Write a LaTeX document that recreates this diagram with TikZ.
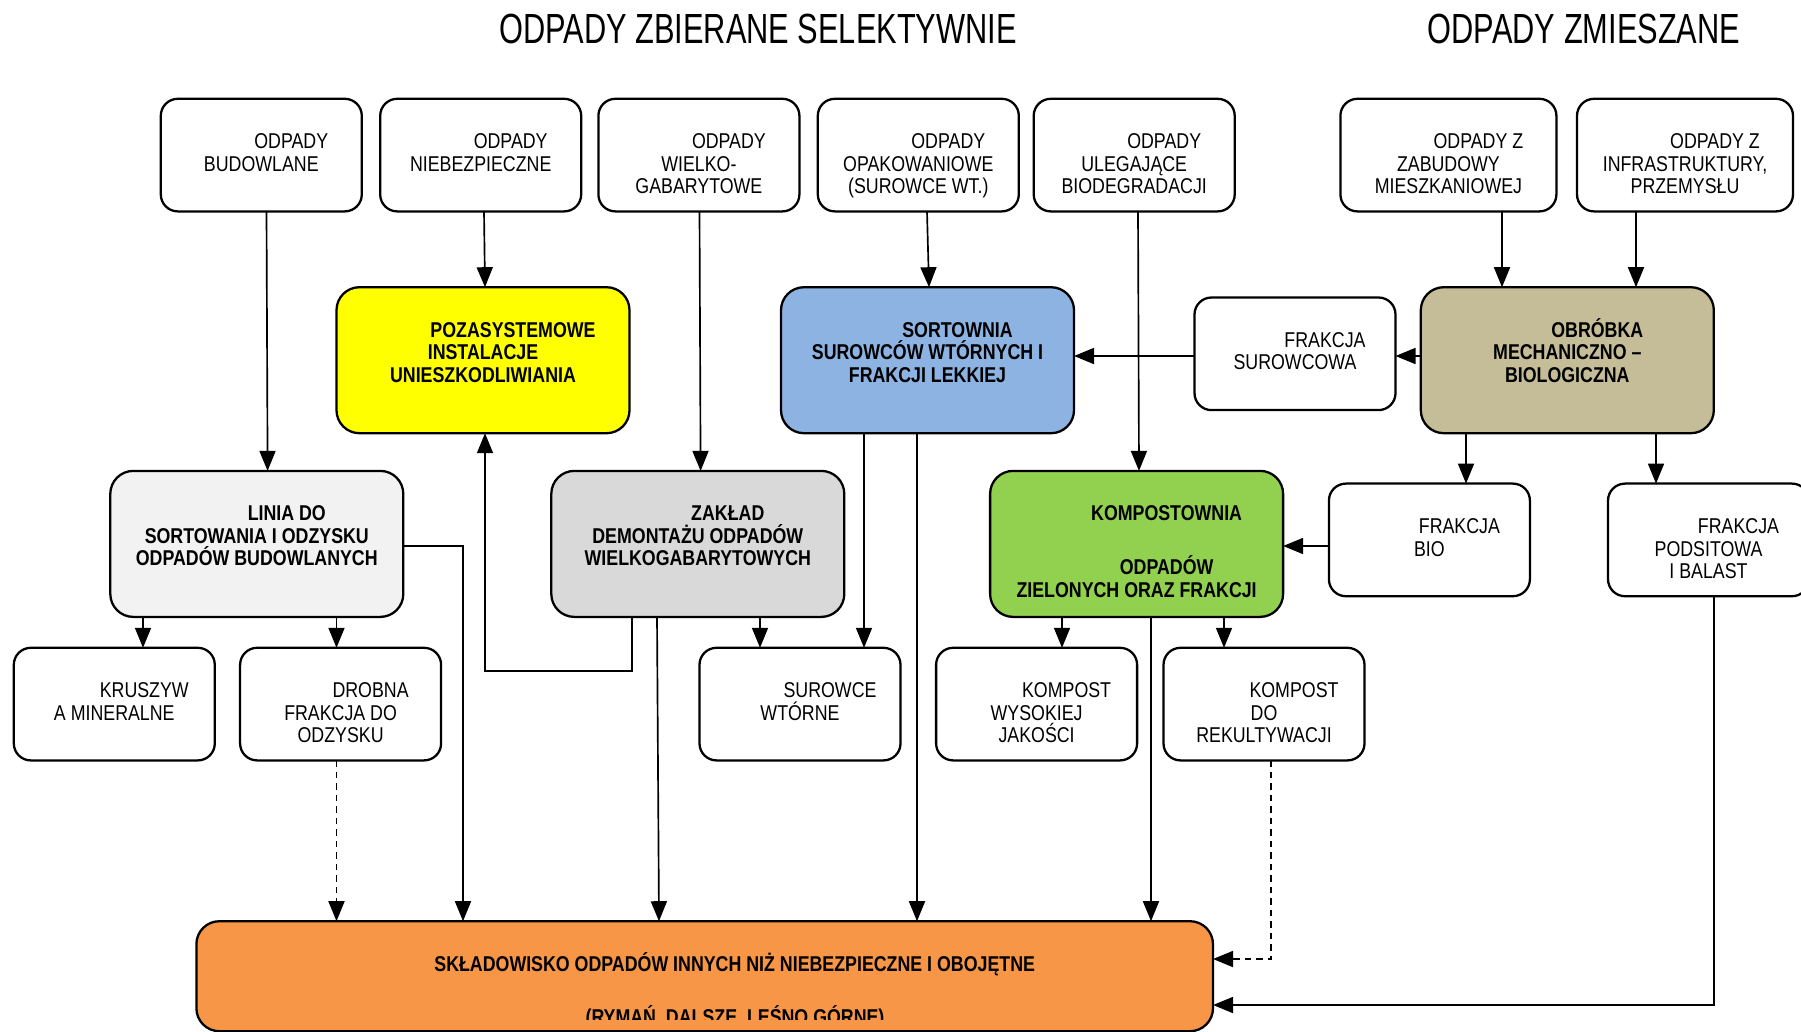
\documentclass[tikz,border=0pt]{standalone}
\usepackage{fontspec}
\setmainfont[FakeStretch=0.83]{Liberation Sans}
\newfontfamily\titlefont[FakeStretch=0.73]{Liberation Sans}
\usetikzlibrary{arrows.meta}
\newlength{\pxu}\setlength{\pxu}{0.02cm}
\newcommand{\bxt}[3]{\parbox[c][#2\pxu][t]{#1\pxu}{\centering\rule{0pt}{50\pxu}\hspace*{60\pxu}#3}}
\definecolor{cyel}{HTML}{FFFF00}
\definecolor{cblue}{HTML}{8DB3E2}
\definecolor{ckhaki}{HTML}{C4BD97}
\definecolor{clgray}{HTML}{F2F2F2}
\definecolor{cgray}{HTML}{D9D9D9}
\definecolor{cgreen}{HTML}{92D050}
\definecolor{corange}{HTML}{F79646}
\tikzset{
  boxbase/.style={draw, line width=1.3pt, inner sep=0pt, outer sep=0pt, anchor=north west, fill=white},
  sbox/.style={boxbase, rounded corners=0.34cm, font=\fontsize{12.2}{12.75}\selectfont},
  lbox/.style={boxbase, rounded corners=0.46cm, font=\fontsize{12.2}{12.75}\selectfont\bfseries},
  ttl/.style={font=\titlefont\fontsize{24}{28}\selectfont, inner sep=0pt},
  arr/.style={line width=0.95pt, -{Triangle[length=0.4cm,width=0.32cm]}},
  dsh/.style={arr, dash pattern=on 0.13cm off 0.1cm},
}
\begin{document}
\begin{tikzpicture}[x=0.02cm, y=-0.02cm]
\useasboundingbox (0,0) rectangle (1801,1031);

% titles
\node[ttl] (t1) at (758,29) {ODPADY ZBIERANE SELEKTYWNIE};
\node[ttl] (t2) at (1584,29) {ODPADY ZMIESZANE};

% top row
\node[sbox] (b1) at (160.8,98.8) {\bxt{201}{112.6}{ODPADY\\BUDOWLANE}};
\node[sbox] (b2) at (380.2,98.8) {\bxt{201}{112.6}{ODPADY\\NIEBEZPIECZNE}};
\node[sbox] (b3) at (598.4,98.8) {\bxt{201}{112.6}{ODPADY\\WIELKO-\\GABARYTOWE}};
\node[sbox] (b4) at (817.8,98.8) {\bxt{201}{112.6}{ODPADY\\OPAKOWANIOWE\\(SUROWCE WT.)}};
\node[sbox] (b5) at (1033.7,98.8) {\bxt{201}{112.6}{ODPADY\\ULEGAJĄCE\\BIODEGRADACJI}};
\node[sbox] (b6) at (1340.4,98.8) {\bxt{216}{112.6}{ODPADY Z\\ZABUDOWY\\MIESZKANIOWEJ}};
\node[sbox] (b7) at (1577.0,98.8) {\bxt{216}{112.6}{ODPADY Z\\INFRASTRUKTURY,\\PRZEMYSŁU}};

% second row
\node[lbox, fill=cyel] (poza) at (336.5,287.2) {\bxt{293}{146}{POZASYSTEMOWE\\INSTALACJE\\UNIESZKODLIWIANIA}};
\node[lbox, fill=cblue] (sort) at (781.0,287.2) {\bxt{293}{146}{SORTOWNIA\\SUROWCÓW WTÓRNYCH I\\FRAKCJI LEKKIEJ}};
\node[sbox] (fs) at (1194.5,297.5) {\bxt{201}{112.6}{FRAKCJA\\SUROWCOWA}};
\node[lbox, fill=ckhaki] (obr) at (1420.8,287.2) {\bxt{293}{146}{OBRÓBKA\\MECHANICZNO –\\BIOLOGICZNA}};

% third row
\node[lbox, fill=clgray] (linia) at (110.3,470.9) {\bxt{293}{146}{LINIA DO\\SORTOWANIA I ODZYSKU\\ODPADÓW BUDOWLANYCH}};
\node[lbox, fill=cgray] (zak) at (551.3,470.9) {\bxt{293}{146}{ZAKŁAD\\DEMONTAŻU ODPADÓW\\WIELKOGABARYTOWYCH}};
\node[lbox, fill=cgreen] (komp) at (990.1,470.9) {\bxt{293}{146}{KOMPOSTOWNIA\\[31.6\pxu]\hspace*{60\pxu}ODPADÓW\\ZIELONYCH ORAZ FRAKCJI}};
\node[sbox] (bio) at (1328.9,483.6) {\bxt{201}{112.6}{FRAKCJA\\BIO}};
\node[sbox] (pods) at (1608.0,483.6) {\bxt{201}{112.6}{FRAKCJA\\PODSITOWA\\I BALAST}};

% fourth row
\node[sbox] (krusz) at (13.8,647.8) {\bxt{201}{112.6}{KRUSZYW\\A MINERALNE}};
\node[sbox] (drob) at (240.1,647.8) {\bxt{201}{112.6}{DROBNA\\FRAKCJA DO\\ODZYSKU}};
\node[sbox] (surow) at (699.5,647.8) {\bxt{201}{112.6}{SUROWCE\\WTÓRNE}};
\node[sbox] (kw) at (936.1,647.8) {\bxt{201}{112.6}{KOMPOST\\WYSOKIEJ\\JAKOŚCI}};
\node[sbox] (kd) at (1163.5,647.8) {\bxt{201}{112.6}{KOMPOST\\DO\\REKULTYWACJI}};

% bottom
\node[lbox, fill=corange] (skl) at (196.4,921.2) {\bxt{1016.6}{110}{SKŁADOWISKO ODPADÓW INNYCH NIŻ NIEBEZPIECZNE I OBOJĘTNE}};
\begin{scope}
\clip (200,995) rectangle (1200,1019);
\node[font=\fontsize{12.2}{12.75}\selectfont\bfseries, inner sep=0pt, anchor=base] (skl2) at (735,1024) {(RYMAŃ, DALSZE, LEŚNO GÓRNE)};
\end{scope}

% connectors
\draw[arr] (266.5,0 |- b1.south) -- (267.6,0 |- linia.north);
\draw[arr] (484,0 |- b2.south) -- (485,0 |- poza.north);
\draw[arr] (699.5,0 |- b3.south) -- (700.6,0 |- zak.north);
\draw[arr] (927,0 |- b4.south) -- (929,0 |- sort.north);
\draw[arr] (1138,0 |- b5.south) -- (1139,0 |- komp.north);
\draw[arr] (1502,0 |- b6.south) -- (1502,0 |- obr.north);
\draw[arr] (1636,0 |- b7.south) -- (1636,0 |- obr.north);
\draw[arr] (obr.west |- 0,356) -- (fs.east |- 0,356);
\draw[arr] (fs.west |- 0,356) -- (sort.east |- 0,356);
\draw[arr] (1466,0 |- obr.south) -- (1466,0 |- bio.north);
\draw[arr] (1656,0 |- obr.south) -- (1656,0 |- pods.north);
\draw[arr] (bio.west |- 0,546) -- (komp.east |- 0,546);
\draw[arr] (143,0 |- linia.south) -- (143,0 |- krusz.north);
\draw[arr] (336.5,0 |- linia.south) -- (336.5,0 |- drob.north);
\draw[arr] (linia.east |- 0,546) -| (463,0 |- skl.north);
\draw[arr] (632,0 |- zak.south) |- (485,671) -- (485,0 |- poza.south);
\draw[arr] (657,0 |- zak.south) -- (659,0 |- skl.north);
\draw[arr] (760,0 |- zak.south) -- (760,0 |- surow.north);
\draw[arr] (864,0 |- sort.south) -- (864,0 |- surow.north);
\draw[arr] (917,0 |- sort.south) -- (917,0 |- skl.north);
\draw[arr] (1062,0 |- komp.south) -- (1062,0 |- kw.north);
\draw[arr] (1151,0 |- komp.south) -- (1151,0 |- skl.north);
\draw[arr] (1224,0 |- komp.south) -- (1224,0 |- kd.north);
\draw[dsh] (336.5,0 |- drob.south) -- (336.5,0 |- skl.north);
\draw[dsh] (1271,0 |- kd.south) |- (skl.east |- 0,959);
\draw[arr] (1714,0 |- pods.south) |- (skl.east |- 0,1005);
\end{tikzpicture}
\end{document}
